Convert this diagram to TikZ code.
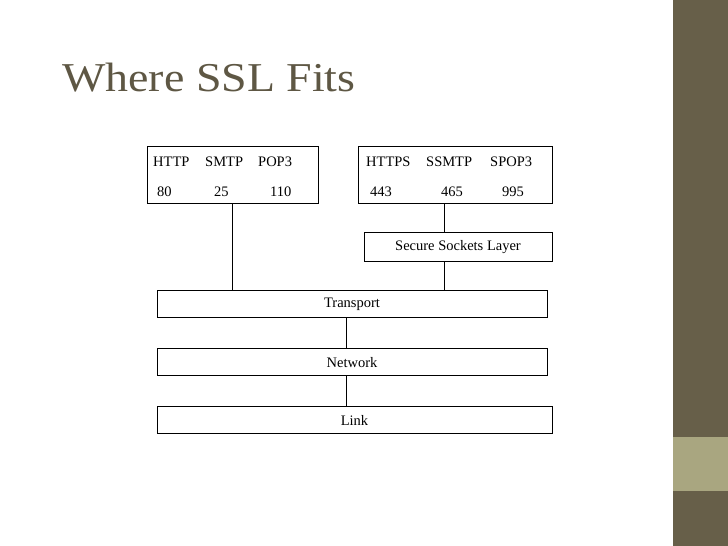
\documentclass[tikz,border=0pt]{standalone}
\usepackage{fontspec}
\setmainfont{Liberation Serif}
\definecolor{sidedark}{HTML}{675F49}
\definecolor{sidelight}{HTML}{A9A680}
\definecolor{titlecol}{HTML}{5E5744}
\begin{document}
\begin{tikzpicture}[x=1pt,y=-1pt,
  box/.style={draw,line width=0.8pt,inner sep=0pt},
  lbl/.style={anchor=base west,inner sep=0pt,font=\fontsize{14.5}{16}\selectfont},
  mid/.style={inner sep=0pt,font=\fontsize{14.5}{16}\selectfont},
  conn/.style={line width=0.8pt}]
\useasboundingbox (0,0) rectangle (728,546);
\fill[white] (0,0) rectangle (728,546);
\fill[sidedark] (673,0) rectangle (728,546);
\fill[sidelight] (673,437) rectangle (728,491);
\node[anchor=base west,inner sep=0pt,text=titlecol,font=\fontsize{41}{44}\selectfont,xscale=1.12,transform shape] (title) at (62,91) {Where SSL Fits};
% boxes
\node[box,minimum width=171,minimum height=57] (lb) at (232.5,174.5) {};
\node[box,minimum width=194,minimum height=57] (rb) at (455,174.5) {};
\node[box,minimum width=188,minimum height=29] (ssl) at (458,246.5) {};
\node[box,minimum width=390,minimum height=27] (tr) at (352,303.5) {};
\node[box,minimum width=390,minimum height=27] (nw) at (352,361.5) {};
\node[box,minimum width=395,minimum height=27] (lk) at (354.5,419.5) {};
\node[mid] at ([yshift=-1pt]ssl.center) {Secure Sockets Layer};
\node[mid] at ([yshift=-1pt]tr.center) {Transport};
\node[mid] at ([yshift=-1pt]nw.center) {Network};
\node[mid] at ([yshift=-1pt]lk.center) {Link};
% protocol labels
\node[lbl] (t1) at (153,166) {HTTP};
\node[lbl] (t2) at (205,166) {SMTP};
\node[lbl] (t3) at (258,166) {POP3};
\node[lbl] (n1) at (157,196) {80};
\node[lbl] (n2) at (214,196) {25};
\node[lbl] (n3) at (270,196) {110};
\node[lbl] (u1) at (366,166) {HTTPS};
\node[lbl] (u2) at (426,166) {SSMTP};
\node[lbl] (u3) at (490,166) {SPOP3};
\node[lbl] (m1) at (370,196) {443};
\node[lbl] (m2) at (441,196) {465};
\node[lbl] (m3) at (502,196) {995};
% connectors
\draw[conn] (232,203) -- (232,290);
\draw[conn] (444,203) -- (444,232);
\draw[conn] (444,261) -- (444,290);
\draw[conn] (346,317) -- (346,348);
\draw[conn] (346,375) -- (346,406);
\end{tikzpicture}
\end{document}
